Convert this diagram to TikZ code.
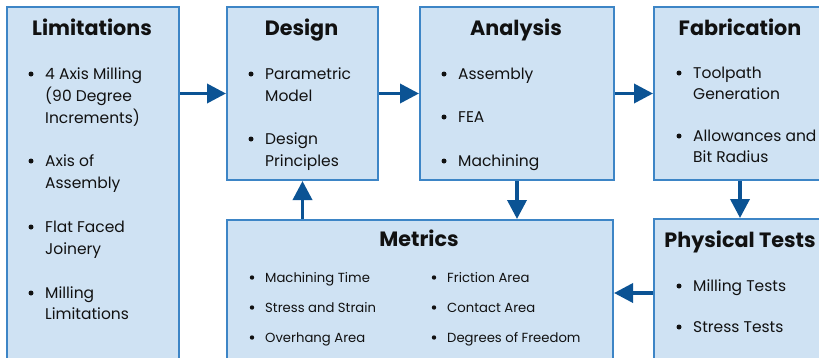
\documentclass[tikz,border=0pt]{standalone}
\usepackage{fontspec}
\setmainfont{Poppins}
\usetikzlibrary{arrows.meta}
\definecolor{boxfill}{HTML}{CFE2F3}
\definecolor{boxline}{HTML}{3D85C6}
\definecolor{arrowblue}{HTML}{0B5394}
\definecolor{ink}{HTML}{111111}
\tikzset{
  box/.style={draw=boxline, line width=2pt, fill=boxfill, rectangle, inner sep=0pt, anchor=north west},
  title/.style={anchor=base, inner sep=0pt, font=\fontsize{20.7}{24}\selectfont\bfseries, text=ink},
  itemtxt/.style={anchor=base west, inner sep=0pt, font=\fontsize{15.5}{19}\selectfont, text=ink},
  smalltxt/.style={anchor=base west, inner sep=0pt, font=\fontsize{13.2}{16}\selectfont, text=ink},
  flow/.style={draw=arrowblue, line width=3.6pt, -{Triangle[length=19pt, width=19pt]}},
}
% bullet item: name, x of text, baseline y, text
\newcommand\bitem[4]{%
  \fill[ink] (#2-14,#3-5) circle (2.5pt);
  \node[itemtxt] (#1) at (#2,#3) {#4};}
\newcommand\cont[4]{\node[itemtxt] (#1) at (#2,#3) {#4};}
\newcommand\sitem[4]{%
  \fill[ink] (#2-13,#3-4.5) circle (2.2pt);
  \node[smalltxt] (#1) at (#2,#3) {#4};}
\begin{document}
\begin{tikzpicture}[x=1pt, y=-1pt]
\useasboundingbox (0,0) rectangle (819,357);
\clip (0,0) rectangle (819,357);

% process boxes
\node[box, minimum width=172pt, minimum height=400pt] (lim) at (6,6) {};
\node[box, minimum width=151pt, minimum height=173pt] (des) at (226,6) {};
\node[box, minimum width=194pt, minimum height=173pt] (ana) at (419,6) {};
\node[box, minimum width=172pt, minimum height=173pt] (fab) at (653,6) {};
\node[box, minimum width=172pt, minimum height=200pt] (phy) at (653,218) {};
\node[box, minimum width=386pt, minimum height=200pt] (met) at (226,219) {};

% connectors
\draw[flow] (lim.east |- des.west) -- (des.west);
\draw[flow] (des.east) -- (ana.west);
\draw[flow] (ana.east) -- (fab.west);
\draw[flow] (fab.south) -- (phy.north);
\draw[flow] (ana.south) -- (met.north -| ana.south);
\draw[flow] (met.north -| des.south) -- (des.south);
\draw[flow] (phy.west |- 0,293) -- (met.east |- 0,293);

% titles
\node[title] (tlim) at (92,35) {Limitations};
\node[title] (tdes) at (301.5,35) {Design};
\node[title] (tana) at (516,35) {Analysis};
\node[title] (tfab) at (740,35) {Fabrication};
\node[title] (tphy) at (740,247) {Physical Tests};
\node[title] (tmet) at (419,246) {Metrics};

% Limitations
\bitem{l1}{45}{79}{4 Axis Milling}
\cont{l1b}{45}{101}{(90 Degree}
\cont{l1c}{45}{123}{Increments)}
\bitem{l2}{45}{166}{Axis of}
\cont{l2b}{45}{188}{Assembly}
\bitem{l3}{45}{232}{Flat Faced}
\cont{l3b}{45}{254}{Joinery}
\bitem{l4}{45}{298}{Milling}
\cont{l4b}{45}{319}{Limitations}

% Design
\bitem{d1}{265}{79}{Parametric}
\cont{d1b}{265}{101}{Model}
\bitem{d2}{265}{144}{Design}
\cont{d2b}{265}{166}{Principles}

% Analysis
\bitem{a1}{458}{79}{Assembly}
\bitem{a2}{458}{122}{FEA}
\bitem{a3}{458}{166}{Machining}

% Fabrication
\bitem{f1}{693}{78}{Toolpath}
\cont{f1b}{693}{99}{Generation}
\bitem{f2}{693}{141}{Allowances and}
\cont{f2b}{693}{162}{Bit Radius}

% Physical Tests
\bitem{p1}{693}{291}{Milling Tests}
\bitem{p2}{693}{332}{Stress Tests}

% Metrics, two columns
\sitem{m1}{265}{282}{Machining Time}
\sitem{m2}{265}{312}{Stress and Strain}
\sitem{m3}{265}{342}{Overhang Area}
\sitem{m4}{447}{282}{Friction Area}
\sitem{m5}{447}{312}{Contact Area}
\sitem{m6}{447}{342}{Degrees of Freedom}
\end{tikzpicture}
\end{document}
